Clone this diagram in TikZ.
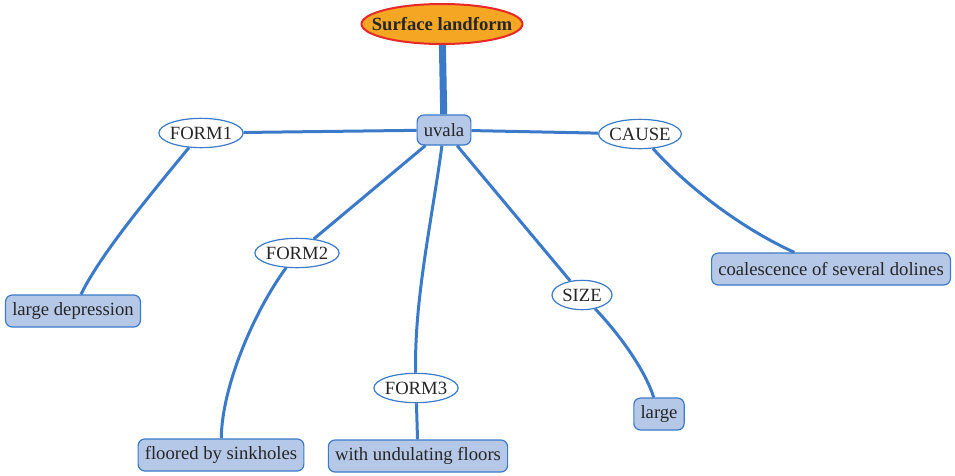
\documentclass[tikz,border=0pt]{standalone}
\usepackage{fontspec}
\setmainfont{Liberation Serif}
\usepackage{xcolor}
\usepackage{tikz}
\usetikzlibrary{shapes.geometric}

\definecolor{linkblue}{RGB}{58,122,200}
\definecolor{boxfill}{RGB}{182,200,232}
\definecolor{rootfill}{RGB}{245,166,35}
\definecolor{rootline}{RGB}{230,40,40}

\begin{document}
\begin{tikzpicture}[x=0.75pt,y=-0.75pt,
    every node/.style={font=\fontsize{14}{16}\selectfont, text=black!85},
    rootnode/.style={ellipse, draw=rootline, line width=1.5pt, fill=rootfill,
      inner xsep=-10pt, inner ysep=0pt, minimum height=30pt,
      font=\fontsize{14}{16}\selectfont\bfseries},
    attrnode/.style={ellipse, draw=linkblue, line width=0.9pt, fill=white,
      inner xsep=-1pt, inner ysep=0pt, minimum width=45pt, minimum height=22pt},
    valbox/.style={rectangle, rounded corners=5pt, draw=linkblue, line width=0.9pt,
      fill=boxfill, inner xsep=5pt, inner ysep=0pt, minimum height=24pt},
    link/.style={draw=linkblue, line width=2.25pt}]
  \useasboundingbox (0,0) rectangle (955,475);

  \node[rootnode] (surf) at (442,24) {Surface landform};
  \node[valbox, minimum height=22.5pt] (uvala) at (444,130) {uvala};
  \node[attrnode] (form1) at (201,133) {FORM1};
  \node[attrnode] (cause) at (640,134) {CAUSE};
  \node[attrnode] (form2) at (297,253) {FORM2};
  \node[attrnode] (size)  at (582,295) {SIZE};
  \node[attrnode] (form3) at (416,388) {FORM3};
  \node[valbox] (largedep) at (73,311) {large depression};
  \node[valbox] (coal)     at (831,269) {coalescence of several dolines};
  \node[valbox] (floored)  at (221,455) {floored by sinkholes};
  \node[valbox] (undul)    at (418,456) {with undulating floors};
  \node[valbox] (large)    at (659,414) {large};

  \draw[link, line width=5.25pt] (surf) -- (uvala);
  \path[link]
    (uvala) edge (form1)
    (uvala) edge (cause)
    (uvala) edge (form2)
    (uvala) edge (size)
    (form3) edge (undul);
  \draw[link] (form1) .. controls (150,195) and (100,255) .. (largedep);
  \draw[link] (form2) .. controls (255,310) and (222,385) .. (floored);
  \draw[link] (uvala) .. controls (432,220) and (414,300) .. (form3);
  \draw[link] (cause) .. controls (690,190) and (745,230) .. (coal);
  \draw[link] (size) .. controls (620,335) and (645,370) .. (large);
\end{tikzpicture}
\end{document}
